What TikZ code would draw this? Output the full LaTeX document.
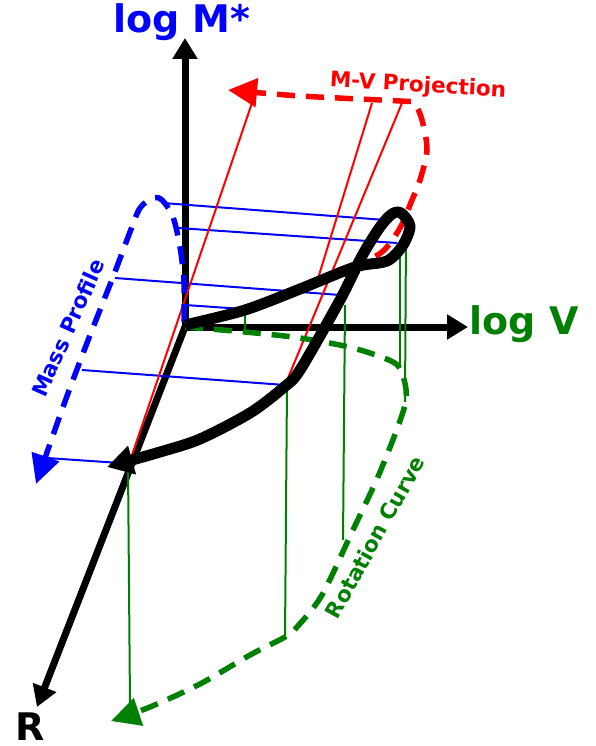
\documentclass[tikz,border=0pt]{standalone}
\usepackage{fontspec}
\setmainfont{DejaVu Sans}
\usepackage{xcolor}
\usepackage{tikz}
\usetikzlibrary{arrows.meta,positioning,calc}
\definecolor{massblue}{RGB}{0,0,255}
\definecolor{rotgreen}{RGB}{0,128,0}
\definecolor{projred}{RGB}{255,0,0}

\begin{document}
\begin{tikzpicture}[
    x=1pt, y=-1pt,
    axis/.style={line width=7pt, -{Triangle[width=24pt,length=21pt]}},
    track/.style={line width=11pt, line join=round, -{Triangle[width=28pt,length=26pt]}},
    guide/.style={line width=2pt},
    profile/.style={line width=5.5pt, dash pattern=on 18pt off 11pt, -{Triangle[width=28pt,length=29pt]}},
    axlabel/.style={font=\fontsize{38}{40}\selectfont\bfseries},
    curvelabel/.style={font=\fontsize{21.5}{24}\selectfont\bfseries}
]
\useasboundingbox (0,0) rectangle (595,746);

% Axes
\coordinate (O) at (185,327);
\coordinate (mtip) at (185,38);
\coordinate (vtip) at (468,327);
\coordinate (rtip) at (37,707);
\draw[axis] (185,330) -- (mtip);
\draw[axis] (182,327) -- (vtip);
\draw[axis] (O) -- (rtip);
\node[axlabel, text=massblue] (mlabel) at (182,22) {log M*};
\node[axlabel, text=rotgreen] (vlabel) at (524,324) {log V};
\node[axlabel] (rlabel) at (30,727) {R};

% Mass profile projections
\draw[guide, massblue] (163,203) -- (385,220);
\draw[guide, massblue] (178,228) -- (397,243);
\draw[guide, massblue] (115,278) -- (340,295);
\draw[guide, massblue] (185,305) -- (243,309);
\draw[guide, massblue] (82,370) -- (285,385);
\draw[guide, massblue] (47,458) -- (120,463);

% M-V projections
\draw[guide, projred] (132,455) -- (253,100);
\draw[guide, projred] (316,285) -- (372,103);
\draw[guide, projred] (288,378) -- (402,103);

% Rotation curve projections
\draw[guide, rotgreen] (245,312) -- (245,333);
\draw[guide, rotgreen] (345,305) -- (343,540);
\draw[guide, rotgreen] (287,385) -- (285,638);
\draw[guide, rotgreen] (128,465) -- (130,705);
\draw[guide, rotgreen] (400,248) -- (400,368);
\draw[guide, rotgreen] (406,232) -- (405,402);

% Projected curves
\draw[profile, massblue] plot[smooth, tension=0.5] coordinates {
    (184,322) (184,282) (180,247) (173,217) (162,200) (153,198) (140,208)
    (130,232) (113,277) (87,343) (63,407) (36,484)};
\draw[profile, projred] plot[smooth, tension=0.5] coordinates {
    (185,325) (245,310) (300,288) (355,265) (382,252) (400,228) (412,200)
    (420,180) (427,150) (422,120) (414,103) (400,101) (300,96) (228,90)};
\draw[profile, rotgreen] plot[smooth, tension=0.5] coordinates {
    (185,327) (245,332) (300,338) (353,348) (393,362) (403,376) (405,405)
    (380,472) (352,532) (322,595) (297,627) (285,637) (250,655) (200,684)
    (150,707) (111,721)};

% Galaxy track
\draw[track] plot[smooth, tension=0.5] coordinates {
    (185,325) (245,310) (300,289) (355,267) (387,261) (403,245) (410,226)
    (401,213) (392,214) (380,227) (362,256) (340,300) (300,370) (283,388)
    (250,413) (200,439) (160,452) (107,467)};

% Curve labels
\node[curvelabel, text=projred, rotate=-3.5] (mvlabel) at (418,86) {M-V Projection};
\node[curvelabel, text=massblue, rotate=66] (mplabel) at (68,328) {Mass Profile};
\node[curvelabel, text=rotgreen, rotate=61] (rclabel) at (375,537) {Rotation Curve};

\end{tikzpicture}
\end{document}
